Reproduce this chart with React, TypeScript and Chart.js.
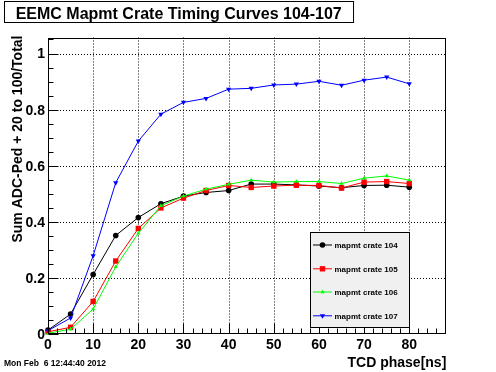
import React, { useEffect, useRef } from 'react';
import { Chart, registerables } from 'chart.js';

Chart.register(...registerables);

// ---- data ----
const phases = [0, 5, 10, 15, 20, 25, 30, 35, 40, 45, 50, 55, 60, 65, 70, 75, 80];
const crate104 = [0.015, 0.072, 0.213, 0.352, 0.416, 0.465, 0.492, 0.505, 0.512, 0.535, 0.535, 0.532, 0.528, 0.522, 0.530, 0.531, 0.524];
const crate105 = [0.009, 0.025, 0.117, 0.261, 0.377, 0.450, 0.485, 0.512, 0.530, 0.523, 0.528, 0.531, 0.530, 0.521, 0.542, 0.544, 0.537];
const crate106 = [0.004, 0.018, 0.090, 0.240, 0.360, 0.458, 0.492, 0.517, 0.534, 0.549, 0.542, 0.544, 0.544, 0.537, 0.556, 0.564, 0.549];
const crate107 = [0.013, 0.058, 0.280, 0.540, 0.688, 0.784, 0.826, 0.840, 0.873, 0.876, 0.888, 0.891, 0.901, 0.887, 0.905, 0.916, 0.892];

const seriesNames = ['mapmt crate 104', 'mapmt crate 105', 'mapmt crate 106', 'mapmt crate 107'];
const xTickValues = [0, 10, 20, 30, 40, 50, 60, 70, 80];
const xTickLabels = ['0', '10', '20', '30', '40', '50', '60', '70', '80'];
const yTickValues = [0, 0.2, 0.4, 0.6, 0.8, 1];
const yTickLabels = ['0', '0.2', '0.4', '0.6', '0.8', '1'];
const titleText = 'EEMC Mapmt Crate Timing Curves 104-107';
const xTitle = 'TCD phase[ns]';
const yTitle = 'Sum ADC-Ped + 20 to 100/Total';
const dateText = 'Mon Feb  6 12:44:40 2012';

const FONT = '"Liberation Sans", Arial, Helvetica, sans-serif';

type Marker = { style: string; radius: number; rotation: number; color: string };
const markers: Marker[] = [
  { style: 'circle', radius: 2.8, rotation: 0, color: '#000000' },
  { style: 'rect', radius: 3.8, rotation: 0, color: '#ff0000' },
  { style: 'triangle', radius: 2.4, rotation: 0, color: '#00ff00' },
  { style: 'triangle', radius: 3.0, rotation: 180, color: '#0000ff' },
];

function drawMarker(ctx: CanvasRenderingContext2D, m: Marker, x: number, y: number) {
  ctx.save();
  ctx.fillStyle = m.color;
  ctx.beginPath();
  if (m.style === 'circle') {
    ctx.arc(x, y, m.radius, 0, Math.PI * 2);
  } else if (m.style === 'rect') {
    const s = Math.SQRT1_2 * m.radius;
    ctx.rect(x - s, y - s, 2 * s, 2 * s);
  } else {
    let rad = (m.rotation * Math.PI) / 180;
    const T = (2 * Math.PI) / 3;
    ctx.moveTo(x + Math.sin(rad) * m.radius, y - Math.cos(rad) * m.radius);
    rad += T;
    ctx.lineTo(x + Math.sin(rad) * m.radius, y - Math.cos(rad) * m.radius);
    rad += T;
    ctx.lineTo(x + Math.sin(rad) * m.radius, y - Math.cos(rad) * m.radius);
    ctx.closePath();
  }
  ctx.fill();
  ctx.restore();
}

const rootPlugin = {
  id: 'rootStyle',
  beforeDraw(chart: any) {
    const ctx = chart.ctx as CanvasRenderingContext2D;
    ctx.save();
    ctx.fillStyle = '#ffffff';
    ctx.fillRect(0, 0, chart.width, chart.height);
    ctx.restore();
  },
  beforeDatasetsDraw(chart: any) {
    const ctx = chart.ctx as CanvasRenderingContext2D;
    const a = chart.chartArea;
    const xs = chart.scales.x;
    const ys = chart.scales.y;
    ctx.save();
    ctx.strokeStyle = '#000000';
    ctx.lineWidth = 1;
    ctx.setLineDash([1, 2]);
    for (const t of xTickValues) {
      if (t === 0) continue;
      const px = Math.round(xs.getPixelForValue(t)) + 0.5;
      ctx.beginPath();
      ctx.moveTo(px, a.top);
      ctx.lineTo(px, a.bottom);
      ctx.stroke();
    }
    for (const t of yTickValues) {
      if (t === 0) continue;
      const py = Math.round(ys.getPixelForValue(t)) + 0.5;
      ctx.beginPath();
      ctx.moveTo(a.left, py);
      ctx.lineTo(a.right, py);
      ctx.stroke();
    }
    ctx.restore();
  },
  afterDatasetsDraw(chart: any) {
    const ctx = chart.ctx as CanvasRenderingContext2D;
    const a = chart.chartArea;
    const xs = chart.scales.x;
    const ys = chart.scales.y;
    ctx.save();
    ctx.strokeStyle = '#000000';
    ctx.lineWidth = 1;
    ctx.setLineDash([]);
    // frame
    const L = Math.round(a.left) + 0.5;
    const R = Math.round(a.right) - 0.5;
    const T = Math.round(a.top) + 0.5;
    const B = Math.round(a.bottom) - 0.5;
    ctx.strokeRect(L, T, R - L, B - T);
    // x ticks
    for (let v = 0; v <= xs.max + 1e-9; v += 2) {
      const px = Math.round(xs.getPixelForValue(v)) + 0.5;
      const major = Math.abs(v % 10) < 1e-9;
      ctx.beginPath();
      ctx.moveTo(px, B);
      ctx.lineTo(px, B - (major ? 10 : 5));
      ctx.stroke();
    }
    // y ticks
    for (let i = 0; i * 0.05 <= ys.max + 1e-9; i++) {
      const v = i * 0.05;
      const py = Math.round(ys.getPixelForValue(v)) + 0.5;
      const major = i % 4 === 0;
      ctx.beginPath();
      ctx.moveTo(L, py);
      ctx.lineTo(L + (major ? 10 : 5), py);
      ctx.stroke();
    }
    // tick labels
    ctx.fillStyle = '#000000';
    ctx.font = `bold 14px ${FONT}`;
    ctx.textAlign = 'center';
    ctx.textBaseline = 'alphabetic';
    xTickValues.forEach((t, i) => {
      ctx.fillText(xTickLabels[i], xs.getPixelForValue(t), 348.5);
    });
    ctx.textAlign = 'right';
    ctx.textBaseline = 'middle';
    yTickValues.forEach((t, i) => {
      ctx.fillText(yTickLabels[i], a.left - 3, ys.getPixelForValue(t) + 1);
    });
    // axis titles
    ctx.textAlign = 'right';
    ctx.textBaseline = 'alphabetic';
    ctx.fillText(xTitle, a.right, 367);
    ctx.save();
    ctx.translate(22, a.top - 2);
    ctx.rotate(-Math.PI / 2);
    ctx.textAlign = 'right';
    ctx.fillText(yTitle, 0, 0);
    ctx.restore();
    // legend
    const lx = 310.5, ly = 232.5, lw = 99, lh = 95;
    ctx.fillStyle = '#f0f0f0';
    ctx.fillRect(lx, ly, lw, lh);
    ctx.strokeStyle = '#000000';
    ctx.lineWidth = 1;
    ctx.strokeRect(lx, ly, lw, lh);
    const rows = [244.5, 268.3, 291.5, 315.3];
    ctx.font = `bold 8px ${FONT}`;
    ctx.textAlign = 'left';
    ctx.textBaseline = 'middle';
    seriesNames.forEach((name, i) => {
      const yy = rows[i];
      ctx.strokeStyle = markers[i].color;
      ctx.beginPath();
      ctx.moveTo(313, yy + 0.5);
      ctx.lineTo(332, yy + 0.5);
      ctx.stroke();
      drawMarker(ctx, markers[i], 322.5, yy + 0.5);
      ctx.fillStyle = '#000000';
      ctx.fillText(name, 334.5, yy + 1);
    });
    // title box
    ctx.font = `bold 16px ${FONT}`;
    const tw = ctx.measureText(titleText).width;
    const bx = 4.5, by = 1.5, bh = 21;
    ctx.fillStyle = '#ffffff';
    ctx.fillRect(bx, by, tw + 23, bh);
    ctx.strokeStyle = '#000000';
    ctx.strokeRect(bx, by, tw + 23, bh);
    ctx.fillStyle = '#000000';
    ctx.textAlign = 'left';
    ctx.textBaseline = 'alphabetic';
    ctx.fillText(titleText, 15.7, 18.5);
    // date
    ctx.font = `bold 8.5px ${FONT}`;
    ctx.fillText(dateText, 4, 366);
    ctx.restore();
  },
};

export default function App() {
  const ref = useRef<HTMLCanvasElement>(null);
  useEffect(() => {
    const series = [crate104, crate105, crate106, crate107];
    const chart = new Chart(ref.current as HTMLCanvasElement, {
      type: 'line',
      data: {
        datasets: series.map((arr, i) => ({
          label: seriesNames[i],
          data: phases.map((p, j) => ({ x: p, y: arr[j] })),
          borderColor: markers[i].color,
          backgroundColor: markers[i].color,
          borderWidth: 1,
          pointStyle: markers[i].style as any,
          pointRadius: markers[i].radius,
          pointRotation: markers[i].rotation,
          pointBorderWidth: 0,
          pointBackgroundColor: markers[i].color,
          tension: 0,
          fill: false,
          clip: false as any,
          order: 3 - i,
        })),
      },
      options: {
        responsive: false,
        devicePixelRatio: 1,
        animation: false,
        events: [],
        layout: { padding: { left: 48, right: 49.7, top: 37.5, bottom: 37.7 } },
        plugins: { legend: { display: false }, tooltip: { enabled: false } },
        scales: {
          x: { type: 'linear', display: false, min: 0, max: 88.2 },
          y: { type: 'linear', display: false, min: 0, max: 1.057 },
        },
      },
      plugins: [rootPlugin],
    });
    return () => chart.destroy();
  }, []);
  return (
    <div style={{ position: 'absolute', left: 0, top: 0, width: 496, height: 372 }}>
      <canvas ref={ref} width={496} height={372} style={{ display: 'block', width: 496, height: 372 }} />
    </div>
  );
}
